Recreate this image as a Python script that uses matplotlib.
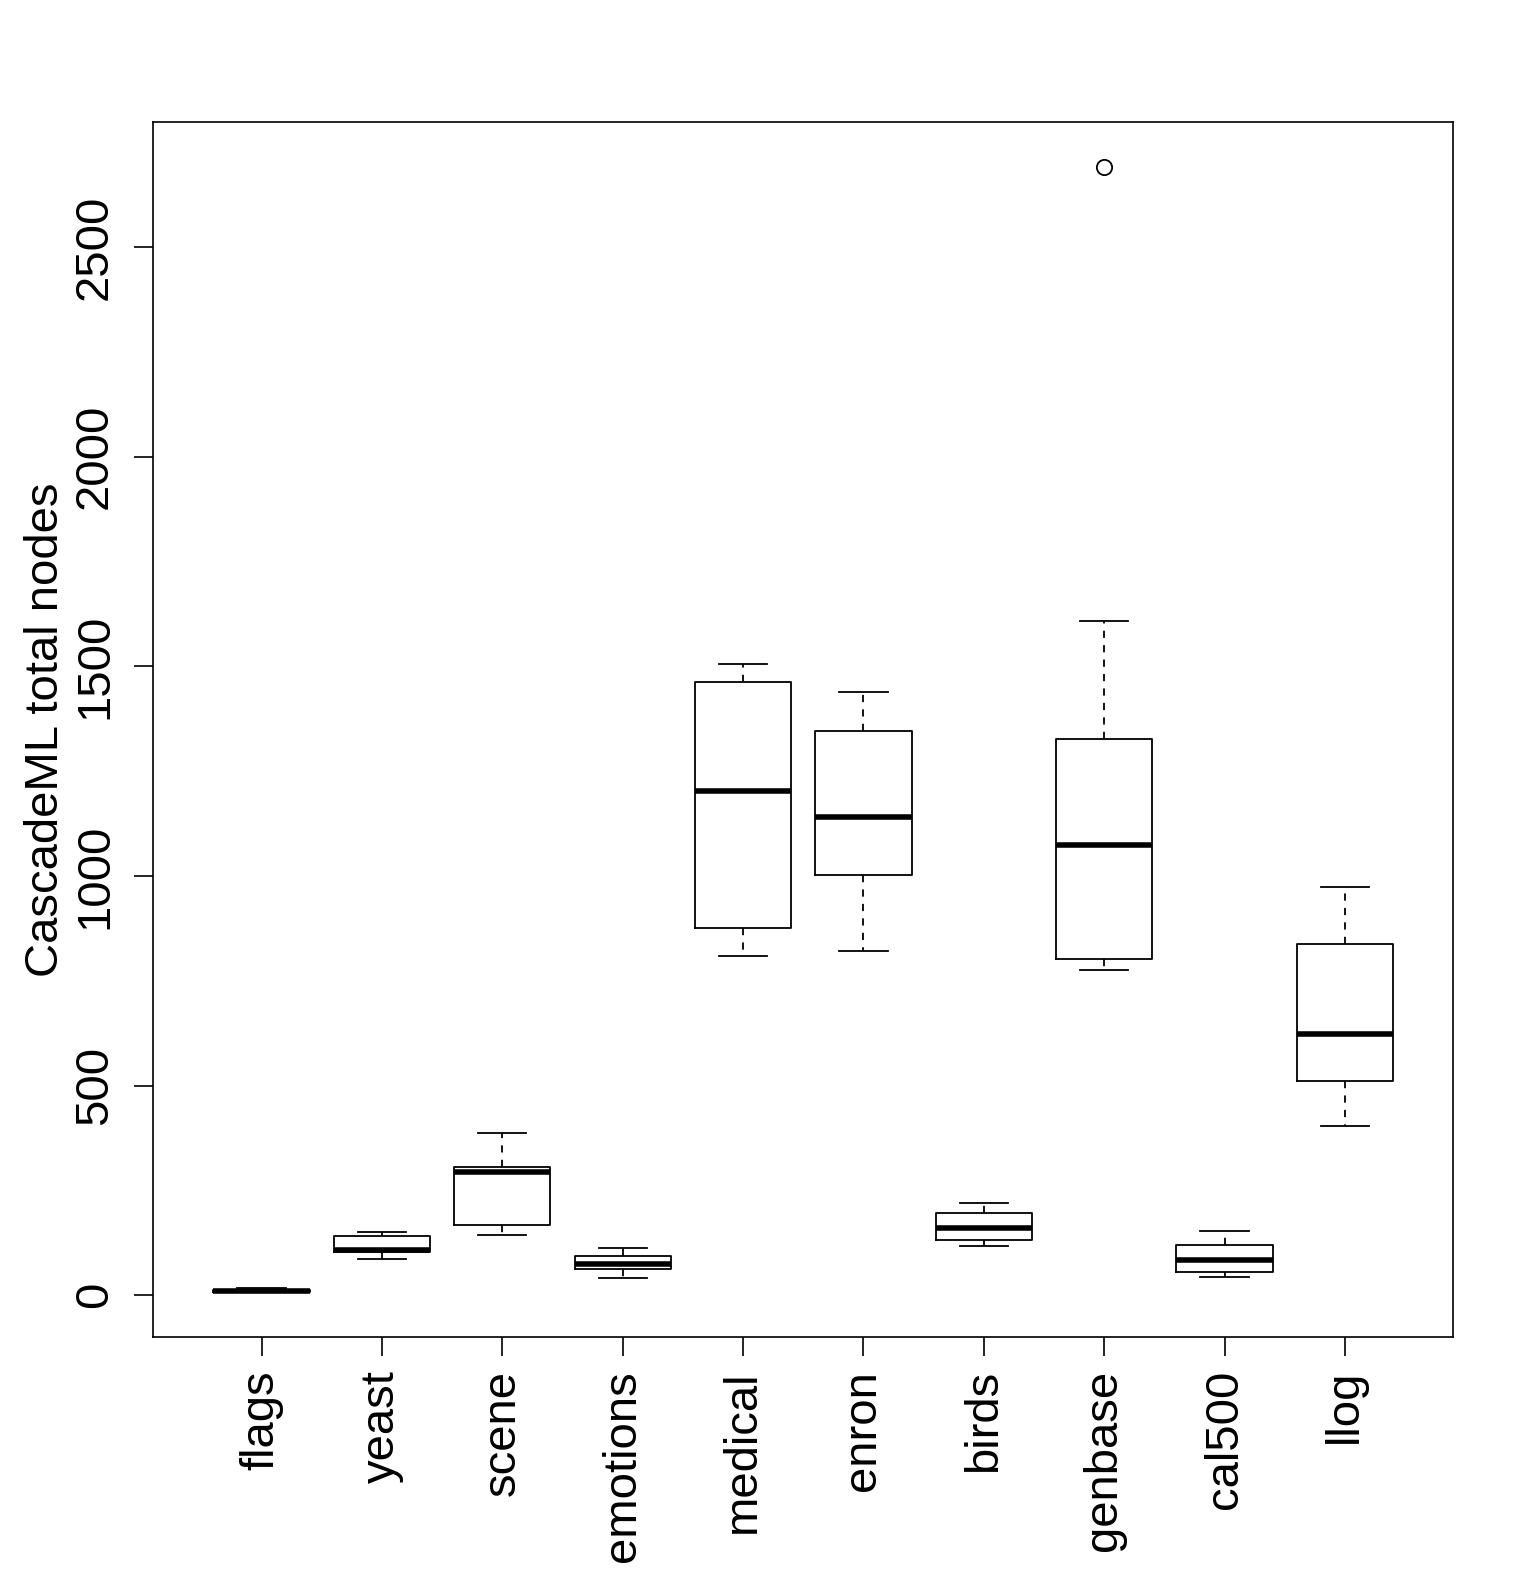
import matplotlib
matplotlib.use("Agg")
import matplotlib.pyplot as plt

plt.rcParams['font.family'] = ['Liberation Sans', 'DejaVu Sans']

# datasets and box statistics
datasets = ["flags", "yeast", "scene", "emotions", "medical",
            "enron", "birds", "genbase", "cal500", "llog"]
whis_lo = [8, 87, 144, 41, 810, 822, 118, 776, 43, 404]
q1 = [9, 103, 168, 63, 875, 1002, 132, 803, 55, 512]
medians = [11, 108, 293, 75, 1202, 1140, 161, 1075, 84, 623]
q3 = [13, 142, 305, 94, 1464, 1346, 197, 1327, 120, 837]
whis_hi = [17, 151, 387, 113, 1505, 1440, 221, 1608, 154, 974]
outliers = [[], [], [], [], [], [], [], [2692], [], []]

stats = []
for i, name in enumerate(datasets):
    stats.append(dict(label=name, whislo=whis_lo[i], q1=q1[i], med=medians[i],
                      q3=q3[i], whishi=whis_hi[i], fliers=outliers[i]))

fig = plt.figure(figsize=(15.17, 15.82), dpi=100)
ax = fig.add_axes([0.101, 0.155, 0.857, 0.768])

lw = 1.3
ax.bxp(stats, positions=range(1, 11), widths=0.8, capwidths=0.4,
       patch_artist=False,
       boxprops=dict(color="black", linewidth=lw),
       medianprops=dict(color="black", linewidth=4, solid_capstyle="butt"),
       whiskerprops=dict(color="black", linewidth=lw, linestyle=(0, (4, 4))),
       capprops=dict(color="black", linewidth=lw),
       flierprops=dict(marker="o", markersize=11, markerfacecolor="none",
                       markeredgecolor="black", markeredgewidth=1.3))

ax.set_xlim(0.1, 10.9)
ax.set_ylim(-99, 2799)
ax.set_yticks([0, 500, 1000, 1500, 2000, 2500])
ax.set_xticks(range(1, 11))
ax.set_xticklabels(datasets, rotation=90, fontsize=34)
ax.tick_params(axis="y", labelsize=34, length=14, width=1.2, pad=12)
ax.tick_params(axis="x", length=14, width=1.2, pad=10)
for lab in ax.get_yticklabels():
    lab.set_rotation(90)
    lab.set_va("center")
ax.set_ylabel("CascadeML total nodes", fontsize=34, labelpad=4)
for s in ax.spines.values():
    s.set_linewidth(1.2)

fig.savefig("out.png", dpi=100)
